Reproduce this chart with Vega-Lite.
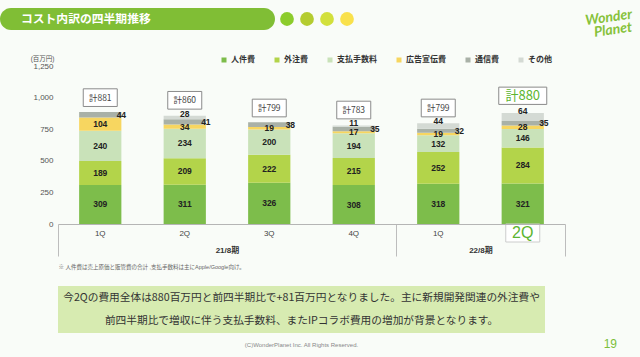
{
  "$schema": "https://vega.github.io/schema/vega-lite/v6.json",
  "background": "#f9fcf8",
  "padding": {"left": 0, "top": 7, "right": 8, "bottom": 10},
  "spacing": 15,
  "config": {
    "font": "Liberation Sans, Noto Sans CJK JP",
    "view": {"stroke": null}
  },
  "resolve": {"scale": {"color": "independent"}},
  "datasets": {
    "costs": [
      {"q": "21-1Q", "cat": "人件費", "rank": 1, "v": 309},
      {"q": "21-1Q", "cat": "外注費", "rank": 2, "v": 189},
      {"q": "21-1Q", "cat": "支払手数料", "rank": 3, "v": 240},
      {"q": "21-1Q", "cat": "広告宣伝費", "rank": 4, "v": 104},
      {"q": "21-1Q", "cat": "通信費", "rank": 5, "v": 44},
      {"q": "21-2Q", "cat": "人件費", "rank": 1, "v": 311},
      {"q": "21-2Q", "cat": "外注費", "rank": 2, "v": 209},
      {"q": "21-2Q", "cat": "支払手数料", "rank": 3, "v": 234},
      {"q": "21-2Q", "cat": "広告宣伝費", "rank": 4, "v": 34},
      {"q": "21-2Q", "cat": "通信費", "rank": 5, "v": 41},
      {"q": "21-2Q", "cat": "その他", "rank": 6, "v": 28},
      {"q": "21-3Q", "cat": "人件費", "rank": 1, "v": 326},
      {"q": "21-3Q", "cat": "外注費", "rank": 2, "v": 222},
      {"q": "21-3Q", "cat": "支払手数料", "rank": 3, "v": 200},
      {"q": "21-3Q", "cat": "広告宣伝費", "rank": 4, "v": 19},
      {"q": "21-3Q", "cat": "通信費", "rank": 5, "v": 38},
      {"q": "21-4Q", "cat": "人件費", "rank": 1, "v": 308},
      {"q": "21-4Q", "cat": "外注費", "rank": 2, "v": 215},
      {"q": "21-4Q", "cat": "支払手数料", "rank": 3, "v": 194},
      {"q": "21-4Q", "cat": "広告宣伝費", "rank": 4, "v": 17},
      {"q": "21-4Q", "cat": "通信費", "rank": 5, "v": 35},
      {"q": "21-4Q", "cat": "その他", "rank": 6, "v": 11},
      {"q": "22-1Q", "cat": "人件費", "rank": 1, "v": 318},
      {"q": "22-1Q", "cat": "外注費", "rank": 2, "v": 252},
      {"q": "22-1Q", "cat": "支払手数料", "rank": 3, "v": 132},
      {"q": "22-1Q", "cat": "広告宣伝費", "rank": 4, "v": 19},
      {"q": "22-1Q", "cat": "通信費", "rank": 5, "v": 32},
      {"q": "22-1Q", "cat": "その他", "rank": 6, "v": 44},
      {"q": "22-2Q", "cat": "人件費", "rank": 1, "v": 321},
      {"q": "22-2Q", "cat": "外注費", "rank": 2, "v": 284},
      {"q": "22-2Q", "cat": "支払手数料", "rank": 3, "v": 146},
      {"q": "22-2Q", "cat": "広告宣伝費", "rank": 4, "v": 28},
      {"q": "22-2Q", "cat": "通信費", "rank": 5, "v": 35},
      {"q": "22-2Q", "cat": "その他", "rank": 6, "v": 64}
    ],
    "totals": [
      {"q": "21-1Q", "total": 881, "label": "計881", "hl": false},
      {"q": "21-2Q", "total": 860, "label": "計860", "hl": false},
      {"q": "21-3Q", "total": 799, "label": "計799", "hl": false},
      {"q": "21-4Q", "total": 783, "label": "計783", "hl": false},
      {"q": "22-1Q", "total": 799, "label": "計799", "hl": false},
      {"q": "22-2Q", "total": 880, "label": "計880", "hl": true}
    ]
  },
  "vconcat": [
    {
      "spacing": 2,
      "hconcat": [
        {
          "width": 275, "height": 22,
          "view": {"fill": "#80be35", "stroke": null, "cornerRadius": 11},
          "data": {"values": [{"t": "コスト内訳の四半期推移"}]},
          "mark": {"type": "text", "color": "#ffffff", "fontSize": 11.8, "fontWeight": "bold", "font": "Noto Sans CJK JP", "align": "left", "baseline": "middle"},
          "encoding": {
            "text": {"field": "t"},
            "x": {"field": "t", "type": "nominal", "axis": null, "bandPosition": 0, "scale": {"type": "band", "paddingInner": 0, "paddingOuter": 0.09}}
          }
        },
        {
          "width": 80, "height": 22,
          "data": {"values": [{"c": "1"}, {"c": "2"}, {"c": "3"}, {"c": "4"}]},
          "mark": {"type": "circle", "size": 190, "opacity": 1},
          "encoding": {
            "x": {"field": "c", "type": "nominal", "axis": null, "scale": {"type": "point", "padding": 0.5}},
            "color": {"field": "c", "type": "nominal", "legend": null, "scale": {"range": ["#8ccc2c", "#b4cc30", "#d2e03c", "#f9e14c"]}}
          }
        },
        {
          "width": 273, "height": 26,
          "data": {"values": [{"w": "Wonder"}, {"w": "Planet"}]},
          "mark": {"type": "text", "color": "#86c23a", "fontSize": 14, "fontStyle": "italic", "fontWeight": "bold", "font": "Lato", "align": "right", "baseline": "middle", "angle": -8},
          "encoding": {
            "text": {"field": "w"},
            "y": {"field": "w", "type": "nominal", "sort": null, "axis": null},
            "x": {"value": "width"}
          }
        }
      ]
    },
    {
      "spacing": 0,
      "hconcat": [
        {
          "width": 30, "height": 10,
          "data": {"values": [{"t": ""}]},
          "mark": {"type": "text"},
          "encoding": {"text": {"field": "t"}}
        },
        {
          "width": 507, "height": 158,
          "resolve": {"axis": {"x": "independent", "y": "independent"}},
          "layer": [
            {
              "data": {"name": "costs"},
              "mark": {"type": "bar", "width": {"band": 0.5}},
              "encoding": {
                "x": {
                  "field": "q", "type": "nominal", "sort": null,
                  "scale": {"domain": ["21-1Q", "21-2Q", "21-3Q", "21-4Q", "22-1Q", "22-2Q"], "paddingInner": 0, "paddingOuter": 0},
                  "axis": {
                    "orient": "bottom", "title": null, "zindex": 1, "domain": true, "domainColor": "#b5b5b5", "ticks": false, "labelAngle": 0,
                    "labelExpr": "split(datum.value, '-')[1]",
                    "labelFontSize": {"condition": {"test": "datum.value == '22-2Q'", "value": 16}, "value": 8},
                    "labelColor": {"condition": {"test": "datum.value == '22-2Q'", "value": "#5cb531"}, "value": "#444444"},
                    "labelPadding": {"condition": {"test": "datum.value == '22-2Q'", "value": 0}, "value": 5},
                    "labelFontWeight": "normal"
                  }
                },
                "y": {
                  "field": "v", "type": "quantitative", "stack": "zero",
                  "scale": {"domain": [0, 1250], "nice": false},
                  "axis": {
                    "orient": "left",
                    "title": "(百万円)", "titleAngle": 0, "titleAlign": "right", "titleBaseline": "middle", "titleX": -4, "titleY": -8,
                    "titleFontSize": 6.5, "titleFontWeight": "normal", "titleColor": "#555555",
                    "domain": false, "ticks": false, "grid": false, "labelFontSize": 8, "labelColor": "#555555", "labelPadding": 5,
                    "values": [0, 250, 500, 750, 1000, 1250], "format": ",.0f"
                  }
                },
                "color": {
                  "field": "cat", "type": "nominal",
                  "scale": {
                    "domain": ["人件費", "外注費", "支払手数料", "広告宣伝費", "通信費", "その他"],
                    "range": ["#7dbd4b", "#b3d44a", "#c9e2b9", "#f7d660", "#a9b1a7", "#d4dad4"]
                  },
                  "legend": {
                    "title": null, "orient": "none", "legendX": 220, "legendY": -10, "direction": "horizontal",
                    "symbolType": "square", "symbolSize": 25, "symbolStrokeWidth": 0, "labelFontSize": 8, "labelFontWeight": "bold",
                    "labelColor": "#333333", "columnPadding": 18, "labelOffset": 3, "padding": 0
                  }
                },
                "order": {"field": "rank", "type": "quantitative"}
              }
            },
            {
              "data": {"name": "costs"},
              "mark": {"type": "text", "fontSize": 8.5, "fontWeight": "bold", "color": "#222222", "baseline": "middle"},
              "encoding": {
                "x": {
                  "field": "q", "type": "nominal", "sort": null,
                  "axis": {
                    "orient": "bottom", "domain": false, "ticks": true, "tickBand": "extent", "tickSize": 32, "tickColor": "#bdbdbd", "tickWidth": 1,
                    "tickOpacity": {"condition": {"test": "datum.extra || datum.value == '21-4Q' || datum.value == '22-2Q'", "value": 1}, "value": 0},
                    "labelExpr": "datum.value == '21-2Q' ? '21/8期' : datum.value == '22-1Q' ? '22/8期' : ''",
                    "labelAngle": 0, "labelOffset": 42.2, "labelPadding": -10, "labelFontSize": 8, "labelFontWeight": "bold", "labelColor": "#333333",
                    "title": "※ 人件費は売上原価と販管費の合計 ,支払手数料は主にApple/Google向け。",
                    "titleAnchor": "start", "titleAlign": "left", "titleFontSize": 5.5, "titleFontWeight": "normal", "titleColor": "#666666", "titlePadding": 8
                  }
                },
                "y": {"field": "v", "type": "quantitative", "stack": "zero", "bandPosition": 0.5, "axis": null},
                "detail": {"field": "cat"},
                "order": {"field": "rank", "type": "quantitative"},
                "text": {"condition": {"test": "datum.cat != '通信費' && datum.cat != 'その他'", "field": "v", "type": "quantitative"}, "value": ""}
              }
            },
            {
              "data": {"name": "costs"},
              "mark": {"type": "text", "fontSize": 8.5, "fontWeight": "bold", "color": "#222222", "baseline": "middle", "align": "center"},
              "encoding": {
                "x": {"field": "q", "type": "nominal", "sort": null, "bandPosition": 0.75, "axis": null},
                "y": {"field": "v", "type": "quantitative", "stack": "zero", "bandPosition": 0.5, "axis": null},
                "detail": {"field": "cat"},
                "order": {"field": "rank", "type": "quantitative"},
                "text": {"condition": {"test": "datum.cat == '通信費'", "field": "v", "type": "quantitative"}, "value": ""}
              }
            },
            {
              "data": {"name": "costs"},
              "mark": {"type": "text", "fontSize": 8.5, "fontWeight": "bold", "color": "#222222", "baseline": "middle", "dy": -2},
              "encoding": {
                "x": {"field": "q", "type": "nominal", "sort": null, "axis": null},
                "y": {"field": "v", "type": "quantitative", "stack": "zero", "axis": null},
                "detail": {"field": "cat"},
                "order": {"field": "rank", "type": "quantitative"},
                "text": {"condition": {"test": "datum.cat == 'その他'", "field": "v", "type": "quantitative"}, "value": ""}
              }
            },
            {
              "data": {"name": "totals"},
              "transform": [{"filter": "!datum.hl"}],
              "mark": {"type": "point", "shape": "M-1,-0.52H1V0.52H-1Z", "size": 1156, "filled": true, "fill": "#ffffff", "stroke": "#8a8a8a", "strokeWidth": 1, "opacity": 1, "yOffset": -15},
              "encoding": {
                "x": {"field": "q", "type": "nominal", "sort": null, "axis": null},
                "y": {"field": "total", "type": "quantitative", "axis": null}
              }
            },
            {
              "data": {"name": "totals"},
              "transform": [{"filter": "!datum.hl"}],
              "mark": {"type": "text", "fontSize": 8.5, "color": "#444444", "font": "Noto Sans CJK JP", "baseline": "middle", "yOffset": -15},
              "encoding": {
                "x": {"field": "q", "type": "nominal", "sort": null, "axis": null},
                "y": {"field": "total", "type": "quantitative", "axis": null},
                "text": {"field": "label"}
              }
            },
            {
              "data": {"name": "totals"},
              "transform": [{"filter": "datum.hl"}],
              "mark": {"type": "point", "shape": "M-1,-0.36H1V0.36H-1Z", "size": 2304, "filled": true, "fill": "#ffffff", "stroke": "#8a8a8a", "strokeWidth": 1, "opacity": 1, "yOffset": -17},
              "encoding": {
                "x": {"field": "q", "type": "nominal", "sort": null, "axis": null},
                "y": {"field": "total", "type": "quantitative", "axis": null}
              }
            },
            {
              "data": {"name": "totals"},
              "transform": [{"filter": "datum.hl"}],
              "mark": {"type": "text", "fontSize": 13, "color": "#5cb531", "font": "Noto Sans CJK JP", "baseline": "middle", "yOffset": -17},
              "encoding": {
                "x": {"field": "q", "type": "nominal", "sort": null, "axis": null},
                "y": {"field": "total", "type": "quantitative", "axis": null},
                "text": {"field": "label"}
              }
            },
            {
              "data": {"name": "totals"},
              "transform": [{"filter": "datum.hl"}],
              "mark": {"type": "point", "shape": "M-1,-0.53H1V0.53H-1Z", "size": 1156, "filled": true, "fill": "#ffffff", "stroke": "#cccccc", "strokeWidth": 1, "opacity": 1, "yOffset": 9},
              "encoding": {
                "x": {"field": "q", "type": "nominal", "sort": null, "axis": null},
                "y": {"datum": 0, "type": "quantitative", "axis": null}
              }
            }
          ]
        }
      ]
    },
    {
      "spacing": 0,
      "hconcat": [
        {
          "width": 58, "height": 10,
          "data": {"values": [{"t": ""}]},
          "mark": {"type": "text"},
          "encoding": {"text": {"field": "t"}}
        },
        {
          "width": 487, "height": 47,
          "view": {"fill": "#d7ebb1", "stroke": null},
          "title": {"text": "(C)WonderPlanet Inc.  All Rights Reserved.", "orient": "bottom", "anchor": "middle", "fontSize": 6, "fontWeight": "normal", "color": "#888888", "offset": 9},
          "data": {"values": [
            {"line": "今2Qの費用全体は880百万円と前四半期比で+81百万円となりました。主に新規開発関連の外注費や"},
            {"line": "前四半期比で増収に伴う支払手数料、またIPコラボ費用の増加が背景となります。"}
          ]},
          "mark": {"type": "text", "fontSize": 10.7, "color": "#333333", "font": "Noto Sans CJK JP", "baseline": "middle"},
          "encoding": {
            "text": {"field": "line"},
            "y": {"field": "line", "type": "nominal", "sort": null, "axis": null}
          }
        },
        {
          "width": 72, "height": 58,
          "data": {"values": [{"p": "19"}]},
          "mark": {"type": "text", "fontSize": 12, "color": "#7cbf3a", "align": "right", "baseline": "middle"},
          "encoding": {
            "text": {"field": "p"},
            "x": {"value": "width"},
            "y": {"value": "height"}
          }
        }
      ]
    }
  ]
}
